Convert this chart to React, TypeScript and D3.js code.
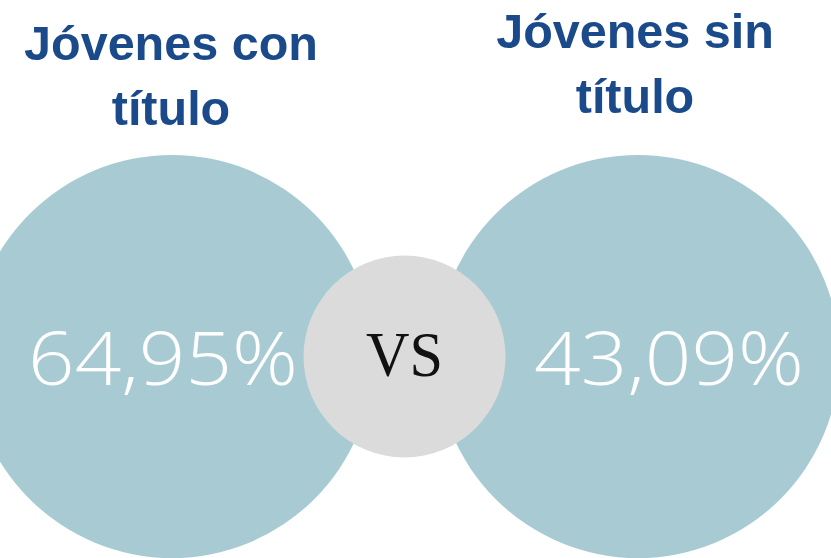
import React from "react";
import * as d3 from "d3";

const categories = ["Jóvenes con título", "Jóvenes sin título"];
const titleLines = [["Jóvenes con", "título"], ["Jóvenes sin", "título"]];
const values = [64.95, 43.09];
const centerLabel = "VS";

const W = 831;
const H = 558;
const TEAL = "#a8cbd3";
const GRAY = "#dbdbdb";
const BLUE = "#1b4a8a";

const locale = d3.formatLocale({ decimal: ",", thousands: ".", grouping: [3], currency: ["", "€"] });
const fmt = locale.format(".2f");

export default function App() {
  const x = d3.scalePoint<string>().domain(categories).range([172, 638]);
  const r = 201.5;
  const cy = 356.5;
  const titleBase = [60, 48];
  const titleX = [171, 635];
  const numX = [163, 669];
  const numWidth = 270;
  const midX = ((x(categories[0]) as number) + (x(categories[1]) as number)) / 2 - 0.5;

  return (
    <div style={{ position: "fixed", left: 0, top: 0, width: W, height: H, background: "#fff" }}>
      <svg width={W} height={H} style={{ display: "block" }}>
        {categories.map((c, i) => (
          <circle key={"c" + i} cx={x(c)} cy={cy} r={r} fill={TEAL} />
        ))}
        <circle cx={midX} cy={cy} r={101} fill={GRAY} />
        {categories.map((c, i) => (
          <text
            key={"t" + i}
            x={titleX[i]}
            y={titleBase[i]}
            textAnchor="middle"
            fill={BLUE}
            fontFamily="'Liberation Sans', Arial, sans-serif"
            fontWeight={700}
            fontSize={48.5}
          >
            {titleLines[i].map((l, j) => (
              <tspan key={j} x={titleX[i]} dy={j === 0 ? 0 : 65}>
                {l}
              </tspan>
            ))}
          </text>
        ))}
        {values.map((v, i) => (
          <text
            key={"v" + i}
            x={numX[i] - numWidth / 2}
            y={385}
            fill="#ffffff"
            fontFamily="'Open Sans', sans-serif"
            fontWeight={300}
            fontSize={74}
            textLength={numWidth}
            lengthAdjust="spacingAndGlyphs"
          >
            {fmt(v) + "%"}
          </text>
        ))}
        <text
          x={366}
          y={376}
          fill="#111111"
          fontFamily="'Liberation Serif', 'Times New Roman', serif"
          fontSize={64}
          textLength={77}
          lengthAdjust="spacingAndGlyphs"
        >
          {centerLabel}
        </text>
      </svg>
    </div>
  );
}
